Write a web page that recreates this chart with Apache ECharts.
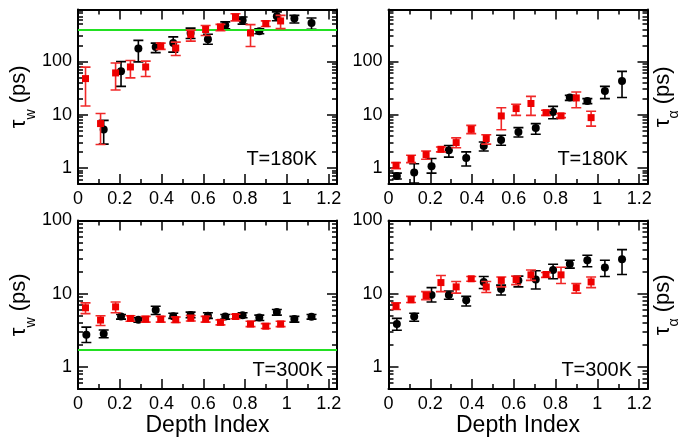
<!DOCTYPE html>
<html><head><meta charset="utf-8">
<script src="https://cdn.jsdelivr.net/npm/echarts@6/dist/echarts.min.js"></script>
<style>html,body{margin:0;padding:0;background:#fff}#c{width:694px;height:438px}</style>
</head><body><div id="c"></div>
<script>
// ---------------- data ----------------
const depthBlack = [0.04, 0.123, 0.206, 0.289, 0.372, 0.456, 0.539, 0.622, 0.705, 0.788, 0.868, 0.952, 1.036, 1.118];
const depthRed   = [0.036, 0.108, 0.18, 0.251, 0.324, 0.396, 0.468, 0.54, 0.611, 0.682, 0.754, 0.826, 0.899, 0.97];

const xMajorTicks = [0, 0.2, 0.4, 0.6, 0.8, 1, 1.2];
const xMinorTicks = [0.1, 0.3, 0.5, 0.7, 0.9, 1.1];
const yMajorTicks = [1, 10, 100];
const yMinorTicks = [0.5, 0.6, 0.7, 0.8, 0.9, 2, 3, 4, 5, 6, 7, 8, 9, 20, 30, 40, 50, 60, 70, 80, 90, 200, 300, 400, 500, 600, 700, 800, 900];

// tau_w, T=180K
const tw180Black   = [null, 5.25, 65, 174, 186, 221, 341, 260, 475, 590, 367, 702, 635, 525];
const tw180BlackLo = [null, 2.8, 34, 98, 146, 149, 268, 210, 410, 500, 330, 580, 525, 400];
const tw180BlackHi = [null, 7.8, 99, 248, 220, 288, 420, 322, 550, 680, 410, 850, 730, 650];
const tw180Red     = [47.5, 6.8, 60.7, 78.5, 78.5, 194, 178, 319, 396, 442, 680, 341, 510, 573];
const tw180RedLo   = [14.5, 2.75, 29, 49, 52, 168, 129, 240, 306, 375, 575, 190, 450, 412];
const tw180RedHi   = [78, 10.5, 93, 104, 101, 220, 230, 385, 470, 495, 780, 490, 575, 730];

// tau_alpha, T=180K
const ta180Black   = [0.71, 0.82, 1.08, 2.15, 1.54, 2.59, 3.35, 4.73, 5.63, 11.2, 20.9, 18.1, 27.8, 42.9];
const ta180BlackLo = [0.62, 0.52, 0.8, 1.6, 1.09, 2.08, 2.66, 3.8, 4.3, 8.4, 18.5, 16.1, 20, 21];
const ta180BlackHi = [0.8, 1.2, 1.5, 2.63, 2.0, 3.07, 4.1, 5.7, 6.8, 14.3, 23, 20, 34, 65];
const ta180Red     = [1.12, 1.5, 1.78, 2.24, 2.99, 5.3, 3.56, 9.46, 13, 16.2, 10.9, 9.5, 20.6, 8.8];
const ta180RedLo   = [0.97, 1.26, 1.46, 2.0, 2.4, 4.4, 2.8, 5.2, 9.7, 9.7, 9.7, 8.8, 13.5, 6.1];
const ta180RedHi   = [1.26, 1.73, 2.08, 2.48, 3.66, 6.3, 4.2, 13.5, 15.7, 22, 12.1, 10.5, 26.7, 11.6];

// tau_w, T=300K
const tw300Black   = [2.76, 2.85, 4.89, 4.42, 6.0, 4.93, 5.14, 4.99, 4.89, 5.08, 4.73, 5.63, 4.5, 4.84];
const tw300BlackLo = [2.16, 2.5, 4.5, 4.07, 5.2, 4.6, 4.7, 4.6, 4.5, 4.7, 4.3, 5.1, 4.1, 4.5];
const tw300BlackHi = [3.5, 3.2, 5.2, 4.7, 6.76, 5.4, 5.6, 5.5, 5.2, 5.5, 5.1, 6.1, 4.9, 5.2];
const tw300Red     = [6.43, 4.37, 6.62, 4.6, 4.5, 4.5, 4.42, 4.64, 4.5, 4.07, 4.89, 3.86, 3.6, 3.86];
const tw300RedLo   = [5.35, 3.68, 5.5, 4.2, 4.1, 4.1, 4.05, 4.25, 4.1, 3.75, 4.55, 3.55, 3.35, 3.55];
const tw300RedHi   = [7.5, 5.0, 7.7, 5.0, 4.9, 4.9, 4.8, 5.05, 4.9, 4.4, 5.25, 4.2, 3.9, 4.2];

// tau_alpha, T=300K
const ta300Black   = [3.86, 4.89, 9.64, 9.6, 8.13, 14.5, 11.6, 15.2, 15.6, 21.1, 25.4, 28.6, 22.9, 29.5];
const ta300BlackLo = [3.17, 4.2, 7.7, 8.4, 6.8, 11.8, 9.6, 12.4, 11.6, 16, 22.4, 23.4, 17.2, 18.3];
const ta300BlackHi = [4.6, 5.4, 12.1, 10.9, 9.2, 17.2, 13.1, 17.4, 20.6, 25.3, 28.6, 33.6, 28.6, 40];
const ta300Red     = [6.76, 8.27, 9.46, 14.2, 12.4, 16, 12.4, 15.2, 15.6, 18.1, 18.3, 18.1, 12.1, 14.5];
const ta300RedLo   = [6.1, 7.6, 8.3, 10.7, 10.2, 14.8, 10.4, 12.4, 13.3, 15.2, 16.7, 13.8, 10.2, 12.1];
const ta300RedHi   = [7.5, 9.2, 10.7, 17.7, 14.7, 17.2, 14.7, 16.9, 17.4, 21.1, 19.5, 23, 13.8, 16.9];

const refTw180 = 390;
const refTw300 = 1.7;

const tempLabels = ['T=180K', 'T=180K', 'T=300K', 'T=300K'];
const xTitle = 'Depth Index';

// ---------------- layout / style ----------------
const FONT = 'Liberation Sans, Arial, Helvetica, sans-serif';
const BLACK = '#000000';
const RED = '#ee0000';
const RED_BAR = '#f02828';
const GREEN = '#22e022';
const X_MAX = 1.24;

const panels = [
  { grid: { left: 78, top: 9.5, width: 259, height: 174.5 }, yMin: 0.5, yMax: 940,
    black: [tw180Black, tw180BlackLo, tw180BlackHi], red: [tw180Red, tw180RedLo, tw180RedHi],
    ref: refTw180, sub: 'w', nameSide: 'left', showXTitle: false, text: [317, 160] },
  { grid: { left: 388.5, top: 9.5, width: 259, height: 174.5 }, yMin: 0.5, yMax: 940,
    black: [ta180Black, ta180BlackLo, ta180BlackHi], red: [ta180Red, ta180RedLo, ta180RedHi],
    ref: null, sub: 'α', nameSide: 'right', showXTitle: false, text: [628, 160] },
  { grid: { left: 78, top: 220.5, width: 259, height: 173.5 }, yMin: 0.5, yMax: 100,
    black: [tw300Black, tw300BlackLo, tw300BlackHi], red: [tw300Red, tw300RedLo, tw300RedHi],
    ref: refTw300, sub: 'w', nameSide: 'left', showXTitle: true, text: [323, 371] },
  { grid: { left: 388.5, top: 220.5, width: 259, height: 173.5 }, yMin: 0.5, yMax: 100,
    black: [ta300Black, ta300BlackLo, ta300BlackHi], red: [ta300Red, ta300RedLo, ta300RedHi],
    ref: null, sub: 'α', nameSide: 'right', showXTitle: true, text: [632, 371] }
];

function errorBarRenderer(color) {
  return function (params, api) {
    const x = api.value(0);
    const lo = api.coord([x, api.value(1)]);
    const hi = api.coord([x, api.value(2)]);
    const half = 5;
    const style = { stroke: color, lineWidth: 1.6, fill: null };
    return {
      type: 'group',
      children: [
        { type: 'line', shape: { x1: lo[0], y1: lo[1], x2: hi[0], y2: hi[1] }, style: style },
        { type: 'line', shape: { x1: lo[0] - half, y1: lo[1], x2: lo[0] + half, y2: lo[1] }, style: style },
        { type: 'line', shape: { x1: hi[0] - half, y1: hi[1], x2: hi[0] + half, y2: hi[1] }, style: style }
      ]
    };
  };
}

function points(depth, vals) {
  const out = [];
  depth.forEach((d, i) => { if (vals[i] != null) out.push([d, vals[i]]); });
  return out;
}
function bars(depth, lo, hi) {
  const out = [];
  depth.forEach((d, i) => { if (lo[i] != null) out.push([d, lo[i], hi[i]]); });
  return out;
}

const grids = [], xAxes = [], yAxes = [], series = [], graphics = [];

panels.forEach((p, i) => {
  grids.push(Object.assign({ containLabel: false }, p.grid));
  const lineStyle = { color: BLACK, width: 2 };
  const xBase = { type: 'value', gridIndex: i, min: 0, max: X_MAX, splitLine: { show: false } };
  xAxes.push(Object.assign({}, xBase, {
    position: 'bottom',
    axisLine: { show: true, onZero: false, lineStyle },
    axisTick: { show: true, inside: true, length: 10, customValues: xMajorTicks, lineStyle: { color: BLACK, width: 1.5 } },
    axisLabel: { show: true, customValues: xMajorTicks, color: BLACK, fontSize: 18, fontFamily: FONT, margin: 6 },
    name: p.showXTitle ? xTitle : '', nameLocation: 'middle', nameGap: 25,
    nameTextStyle: { color: BLACK, fontSize: 23, fontFamily: FONT }
  }));
  xAxes.push(Object.assign({}, xBase, {
    position: 'bottom', axisLine: { show: false, onZero: false },
    axisTick: { show: true, inside: true, length: 5, customValues: xMinorTicks, lineStyle: { color: BLACK, width: 1.5 } },
    axisLabel: { show: false }
  }));
  xAxes.push(Object.assign({}, xBase, {
    position: 'top',
    axisLine: { show: true, onZero: false, lineStyle },
    axisTick: { show: true, inside: true, length: 10, customValues: xMajorTicks, lineStyle: { color: BLACK, width: 1.5 } },
    axisLabel: { show: false }
  }));
  xAxes.push(Object.assign({}, xBase, {
    position: 'top', axisLine: { show: false, onZero: false },
    axisTick: { show: true, inside: true, length: 5, customValues: xMinorTicks, lineStyle: { color: BLACK, width: 1.5 } },
    axisLabel: { show: false }
  }));

  const yBase = { type: 'log', logBase: 10, gridIndex: i, min: p.yMin, max: p.yMax, splitLine: { show: false }, minorSplitLine: { show: false } };
  const nameRich = {
    t: { fontSize: 22, fontFamily: FONT, color: BLACK, lineHeight: 30, verticalAlign: 'top' },
    s: { fontSize: 14, fontFamily: FONT, color: BLACK, lineHeight: 14, verticalAlign: 'bottom' }
  };
  const yName = '{t|τ}{s|' + p.sub + '}{t| (ps)}';
  yAxes.push(Object.assign({}, yBase, {
    position: 'left',
    axisLine: { show: true, onZero: false, lineStyle },
    axisTick: { show: true, inside: true, length: 10, customValues: yMajorTicks, lineStyle: { color: BLACK, width: 1.5 } },
    axisLabel: { show: true, customValues: yMajorTicks, color: BLACK, fontSize: 18, fontFamily: FONT, margin: 6 },
    name: p.nameSide === 'left' ? yName : '', nameLocation: 'middle', nameRotate: 90, nameGap: 40,
    nameTextStyle: { rich: nameRich }
  }));
  yAxes.push(Object.assign({}, yBase, {
    position: 'left', axisLine: { show: false, onZero: false },
    axisTick: { show: true, inside: true, length: 5, customValues: yMinorTicks, lineStyle: { color: BLACK, width: 1.5 } },
    axisLabel: { show: false }
  }));
  yAxes.push(Object.assign({}, yBase, {
    position: 'right',
    axisLine: { show: true, onZero: false, lineStyle },
    axisTick: { show: true, inside: true, length: 10, customValues: yMajorTicks, lineStyle: { color: BLACK, width: 1.5 } },
    axisLabel: { show: false },
    name: p.nameSide === 'right' ? yName : '', nameLocation: 'middle', nameRotate: 90, nameGap: 4,
    nameTextStyle: { rich: nameRich }
  }));
  yAxes.push(Object.assign({}, yBase, {
    position: 'right', axisLine: { show: false, onZero: false },
    axisTick: { show: true, inside: true, length: 5, customValues: yMinorTicks, lineStyle: { color: BLACK, width: 1.5 } },
    axisLabel: { show: false }
  }));

  const xi = i * 4, yi = i * 4;
  series.push({
    type: 'custom', xAxisIndex: xi, yAxisIndex: yi, clip: true, silent: true,
    renderItem: errorBarRenderer(BLACK), encode: { x: 0, y: [1, 2] },
    data: bars(depthBlack, p.black[1], p.black[2]), z: 3
  });
  series.push({
    type: 'scatter', xAxisIndex: xi, yAxisIndex: yi, symbol: 'circle', symbolSize: 8,
    itemStyle: { color: BLACK, opacity: 1 }, data: points(depthBlack, p.black[0]), z: 4, silent: true
  });
  series.push({
    type: 'custom', xAxisIndex: xi, yAxisIndex: yi, clip: true, silent: true,
    renderItem: errorBarRenderer(RED_BAR), encode: { x: 0, y: [1, 2] },
    data: bars(depthRed, p.red[1], p.red[2]), z: 5
  });
  const redSeries = {
    type: 'scatter', xAxisIndex: xi, yAxisIndex: yi, symbol: 'rect', symbolSize: 7,
    itemStyle: { color: RED, opacity: 1 }, data: points(depthRed, p.red[0]), z: 6, silent: true
  };
  if (p.ref != null) {
    redSeries.markLine = {
      silent: true, symbol: 'none', label: { show: false },
      lineStyle: { color: GREEN, width: 2, type: 'solid', opacity: 1 },
      data: [{ yAxis: p.ref }]
    };
  }
  series.push(redSeries);

  graphics.push({
    type: 'text', right: 694 - p.text[0], top: p.text[1] - 11,
    style: { text: tempLabels[i], fontSize: 20, fontFamily: FONT, fill: BLACK }
  });
});

const chart = echarts.init(document.getElementById('c'), null, { renderer: 'canvas' });
chart.setOption({
  animation: false,
  backgroundColor: '#ffffff',
  textStyle: { fontFamily: FONT },
  grid: grids,
  xAxis: xAxes,
  yAxis: yAxes,
  series: series,
  graphic: graphics
});
</script>
</body></html>
